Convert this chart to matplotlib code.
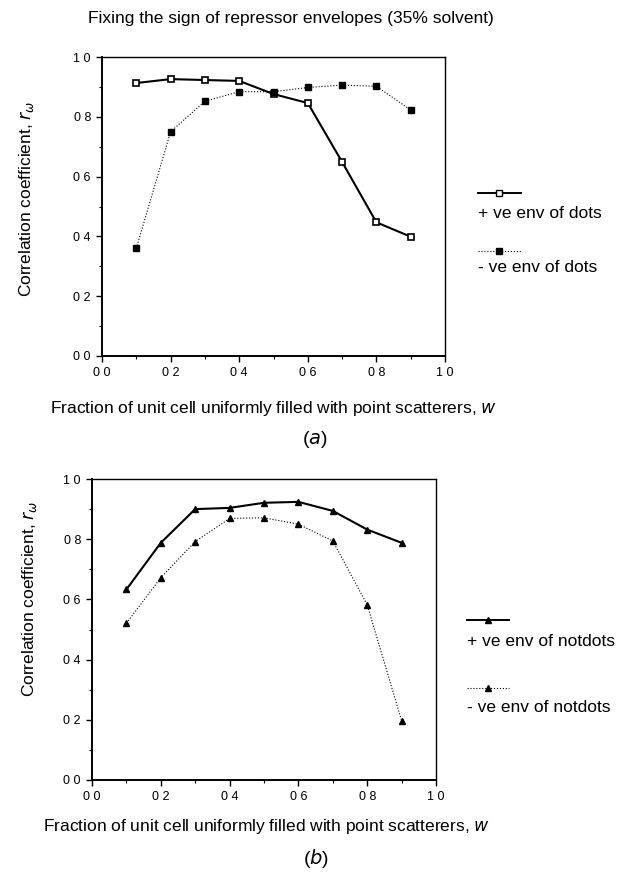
import matplotlib
matplotlib.use("Agg")
import matplotlib.pyplot as plt
from matplotlib.lines import Line2D

plt.rcParams["font.family"] = ["Liberation Sans", "DejaVu Sans"]

# --- Data ---
w = [0.1, 0.2, 0.3, 0.4, 0.5, 0.6, 0.7, 0.8, 0.9]
pos_dots = [0.913, 0.926, 0.923, 0.92, 0.876, 0.846, 0.649, 0.447, 0.399]
neg_dots = [0.36, 0.75, 0.852, 0.884, 0.884, 0.898, 0.906, 0.902, 0.823]
pos_notdots = [0.633, 0.788, 0.90, 0.904, 0.921, 0.924, 0.894, 0.832, 0.788]
neg_notdots = [0.521, 0.672, 0.792, 0.869, 0.871, 0.85, 0.794, 0.582, 0.197]

major_ticks = [0.0, 0.2, 0.4, 0.6, 0.8, 1.0]
minor_ticks = [0.1, 0.3, 0.5, 0.7, 0.9]
tick_labels = ["0 0", "0 2", "0 4", "0 6", "0 8", "1 0"]

title = "Fixing the sign of repressor envelopes (35% solvent)"
xlabel = "Fraction of unit cell uniformly filled with point scatterers, $w$"
ylabel = "Correlation coefficient, $r_{\\omega}$"

fig = plt.figure(figsize=(6.17, 8.73), dpi=100)
X = lambda px: px / 617
Y = lambda py: 1 - py / 873

ax_a = fig.add_axes([X(102), Y(356), 343 / 617, 299 / 873])
ax_b = fig.add_axes([X(92), Y(780), 344 / 617, 301 / 873])


def style_axes(ax):
    ax.set_xlim(0, 1)
    ax.set_ylim(0, 1)
    ax.set_xticks(major_ticks)
    ax.set_yticks(major_ticks)
    ax.set_xticks(minor_ticks, minor=True)
    ax.set_yticks(minor_ticks, minor=True)
    ax.set_xticklabels(tick_labels, fontsize=9)
    ax.set_yticklabels(tick_labels, fontsize=9)
    ax.tick_params(which="major", direction="out", length=4, width=1.0, pad=4)
    ax.tick_params(which="minor", direction="out", length=2, width=0.8)
    for side in ["left", "bottom"]:
        ax.spines[side].set_linewidth(1.4)
    for side in ["top", "right"]:
        ax.spines[side].set_linewidth(1.0)


# --- Panel (a) ---
ax_a.plot(w, pos_dots, color="black", lw=1.5, ls="-", marker="s", ms=5,
          mfc="white", mec="black", mew=1.2)
ax_a.plot(w, neg_dots, color="black", lw=0.8, ls=":", marker="s", ms=5,
          mfc="black", mec="black")
style_axes(ax_a)

# --- Panel (b) ---
ax_b.plot(w, pos_notdots, color="black", lw=1.5, ls="-", marker="^", ms=5,
          mfc="black", mec="black")
ax_b.plot(w, neg_notdots, color="black", lw=0.8, ls=":", marker="^", ms=5,
          mfc="black", mec="black")
style_axes(ax_b)


# --- Legends: line sample above the text, outside the axes ---
def legend_entry(x0, x1, y_line, y_text, ls, lw, marker, mfc, text):
    fig.add_artist(Line2D([X(x0), X(x1)], [Y(y_line), Y(y_line)], color="black",
                          lw=lw, ls=ls, transform=fig.transFigure))
    fig.add_artist(Line2D([X((x0 + x1) / 2)], [Y(y_line)], color="black", marker=marker,
                          ms=5, mfc=mfc, mec="black", ls="none",
                          transform=fig.transFigure))
    fig.text(X(x0), Y(y_text), text, fontsize=12.5, va="center", ha="left")


legend_entry(478, 521, 193, 213, "-", 1.4, "s", "white", "+ ve env of dots")
legend_entry(478, 521, 251, 268, ":", 0.8, "s", "black", "- ve env of dots")
legend_entry(467, 509, 620, 642, "-", 1.4, "^", "black", "+ ve env of notdots")
legend_entry(467, 509, 688, 707, ":", 0.8, "^", "black", "- ve env of notdots")

# --- Titles, axis labels and panel letters ---
fig.text(X(88), Y(18), title, fontsize=12.5, va="center", ha="left")

fig.text(X(50), Y(408), xlabel, fontsize=12.5, va="center", ha="left")
fig.text(X(43), Y(826), xlabel, fontsize=12.5, va="center", ha="left")
fig.text(X(27), Y(297), ylabel, fontsize=12.5, va="bottom", ha="center", rotation=90)
fig.text(X(30), Y(697), ylabel, fontsize=12.5, va="bottom", ha="center", rotation=90)

fig.text(X(315), Y(440), "($a$)", fontsize=14, va="center", ha="center")
fig.text(X(316), Y(858), "($b$)", fontsize=14, va="center", ha="center")

fig.savefig("out.png", dpi=100)
